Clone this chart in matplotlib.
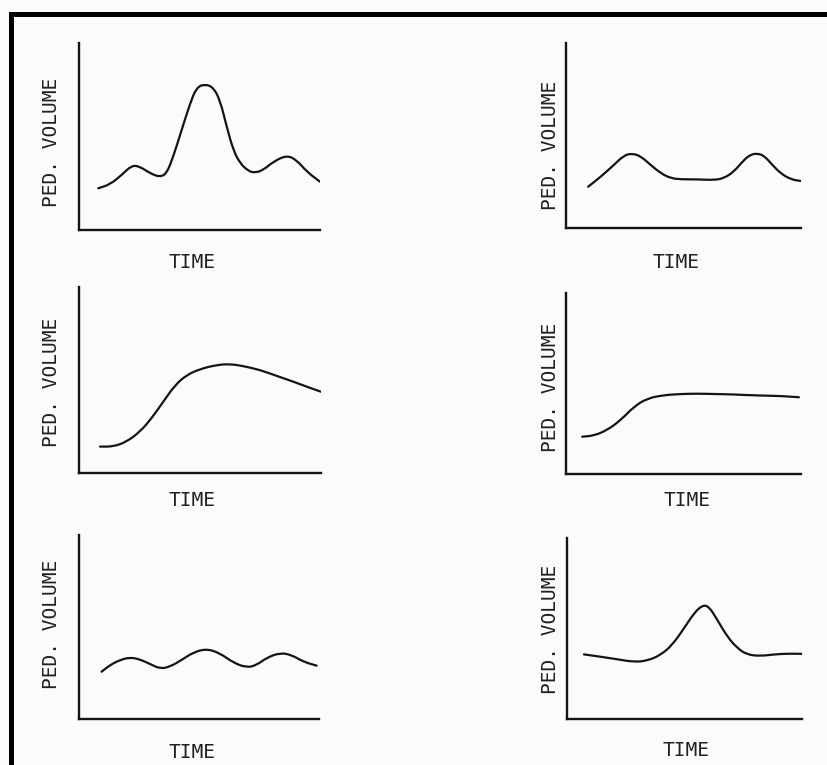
import matplotlib
matplotlib.use("Agg")
import matplotlib.pyplot as plt
from matplotlib.patches import Rectangle, PathPatch
from matplotlib.path import Path

# ---- data (time and pedestrian volume, arbitrary 0-100 units) ----
t1 = [8.0, 12.9, 17.7, 21.9, 25.3, 29.5, 33.6, 36.4, 39.1, 42.6, 46.1, 48.8, 52.3, 55.7, 58.5,
      61.3, 64.0, 66.8, 70.3, 73.0, 76.5, 80.6, 86.2, 90.3, 94.5, 100.0]
v1 = [22.3, 24.4, 29.4, 34.6, 33.9, 30.3, 28.3, 30.3, 39.2, 53.5, 67.7, 76.3, 78.0, 76.3, 69.5,
      55.2, 42.8, 35.7, 31.5, 30.6, 32.1, 36.5, 40.0, 37.4, 31.2, 25.8]

t2 = [9.4, 14.8, 20.4, 24.7, 28.2, 31.8, 36.0, 40.3, 44.6, 48.8, 55.9, 63.0, 67.2, 71.5, 75.7,
      78.6, 81.4, 84.3, 87.8, 91.3, 95.6, 99.9]
v2 = [22.3, 27.7, 34.1, 39.3, 40.3, 38.8, 34.1, 29.6, 26.9, 26.3, 26.3, 25.9, 26.9, 30.5, 36.8,
      39.7, 40.3, 39.1, 34.1, 29.6, 26.3, 25.4]

t3 = [8.7, 14.2, 19.7, 25.2, 30.0, 34.8, 39.7, 44.5, 50.0, 56.9, 62.4, 67.9, 74.8, 81.7, 88.6,
      94.1, 100.0]
v3 = [14.2, 14.2, 16.8, 22.2, 29.4, 38.3, 47.3, 52.7, 55.9, 58.1, 58.6, 57.5, 55.4, 52.2, 49.1,
      46.4, 43.7]

t4 = [6.9, 11.9, 17.6, 23.3, 28.9, 34.6, 41.7, 48.8, 55.9, 63.0, 70.1, 77.1, 84.3, 91.4, 99.1]
v4 = [20.6, 21.2, 24.3, 29.8, 37.2, 41.8, 43.6, 44.2, 44.4, 44.2, 44.0, 43.6, 43.3, 43.1, 42.4]

t5 = [9.4, 12.9, 17.1, 21.3, 25.4, 29.6, 33.8, 37.9, 42.8, 47.6, 53.2, 58.8, 64.3, 69.9, 74.0,
      78.2, 83.8, 88.6, 93.5, 99.0]
v5 = [25.7, 29.3, 32.1, 33.5, 32.4, 29.9, 27.3, 28.4, 32.1, 36.2, 38.2, 35.7, 30.6, 27.9, 29.3,
      33.3, 36.0, 34.8, 31.1, 29.0]

t6 = [7.2, 14.3, 21.4, 28.5, 34.2, 39.9, 44.8, 49.8, 54.0, 57.6, 60.4, 64.0, 68.2, 72.5, 76.7,
      82.4, 88.1, 93.8, 100.0]
v6 = [35.7, 34.4, 33.0, 31.5, 32.2, 35.4, 40.9, 50.1, 58.4, 62.9, 62.2, 54.7, 45.5, 39.1, 35.5,
      34.8, 35.7, 36.1, 36.0]

series = [(t1, v1), (t2, v2), (t3, v3), (t4, v4), (t5, v5), (t6, v6)]
xlabel = "TIME"
ylabel = "PED. VOLUME"

# ---- layout (pixels in an 828x765 canvas) ----
W, H = 828, 765
boxes = [(79, 43, 241, 187), (566, 43, 235, 185),
         (79, 287, 242, 186), (566, 293, 235, 181),
         (79, 535, 240, 184), (567, 538, 235, 181)]
time_pos = [(192, 263), (676, 263), (192, 500), (687, 500), (192, 752), (686, 750)]
ylab_pos = [(52, 142), (551, 145), (52, 382), (551, 387), (52, 624), (551, 629)]

bg = "#fbfbfb"
ink = "#141414"
fig = plt.figure(figsize=(W / 100, H / 100), dpi=100, facecolor=bg)

font = dict(family="DejaVu Sans Mono", fontsize=14, color="#202020")


def smooth_path(xs, ys):
    """Quadratic-Bezier path drawn through the sampled points (rendering only)."""
    pts = list(zip(xs, ys))
    verts = [pts[0]]
    codes = [Path.MOVETO]
    mids = [((pts[i][0] + pts[i + 1][0]) / 2, (pts[i][1] + pts[i + 1][1]) / 2)
            for i in range(len(pts) - 1)]
    verts.append(mids[0]); codes.append(Path.LINETO)
    for i in range(1, len(pts) - 1):
        verts += [pts[i], mids[i]]
        codes += [Path.CURVE3, Path.CURVE3]
    verts.append(pts[-1]); codes.append(Path.LINETO)
    return Path(verts, codes)


for (t, v), (l, top, w, h), tp, yp in zip(series, boxes, time_pos, ylab_pos):
    ax = fig.add_axes([l / W, (H - top - h) / H, w / W, h / H])
    ax.set_facecolor("none")
    ax.add_patch(PathPatch(smooth_path(t, v), facecolor="none", edgecolor=ink, lw=1.6,
                           joinstyle="round", capstyle="round"))
    ax.set_xlim(0, 100)
    ax.set_ylim(0, 100)
    for s in ("top", "right"):
        ax.spines[s].set_visible(False)
    for s in ("left", "bottom"):
        ax.spines[s].set_linewidth(1.7)
        ax.spines[s].set_color(ink)
    ax.set_xticks([])
    ax.set_yticks([])
    fig.text(tp[0] / W, 1 - tp[1] / H, xlabel, ha="center", va="center", **font)
    fig.text(yp[0] / W, 1 - yp[1] / H, ylabel, ha="center", va="center", rotation=90, **font)

# scanned-page border (black bars on top and left)
fig.patches.append(Rectangle((9 / W, 0), 5 / W, (H - 12) / H, transform=fig.transFigure,
                             facecolor="black", edgecolor="none"))
fig.patches.append(Rectangle((9 / W, (H - 17) / H), (W - 9) / W, 5 / H, transform=fig.transFigure,
                             facecolor="black", edgecolor="none"))

fig.savefig("out.png", dpi=100, facecolor=bg)
